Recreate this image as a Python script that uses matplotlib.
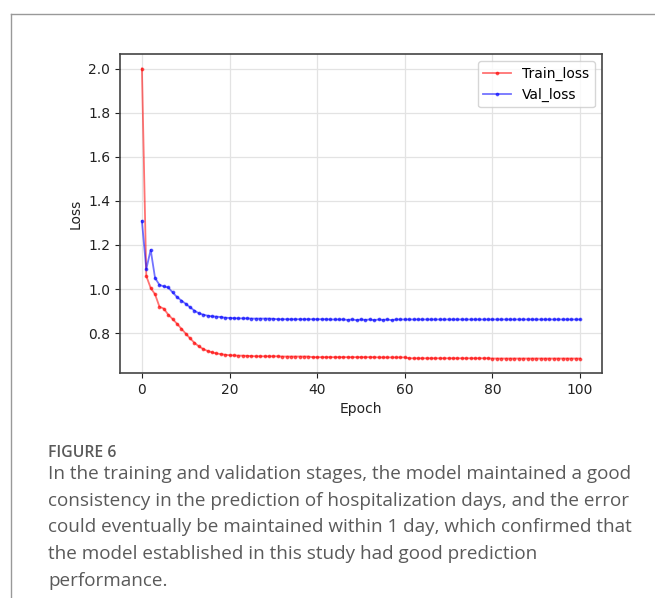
import matplotlib
matplotlib.use('agg')
import matplotlib.pyplot as plt
from matplotlib.lines import Line2D

# loss values per epoch
train_loss = [2.000, 1.059, 1.005, 0.976, 0.920, 0.911, 0.884, 0.864, 0.843, 0.820,
              0.798, 0.776, 0.756, 0.740, 0.728, 0.719, 0.713, 0.708, 0.705, 0.702,
              0.700, 0.699, 0.698, 0.698, 0.697, 0.696, 0.695, 0.695, 0.695, 0.695,
              0.695, 0.695, 0.694, 0.694, 0.694, 0.694, 0.694, 0.694, 0.694, 0.691,
              0.691, 0.691, 0.691, 0.691, 0.691, 0.691, 0.691, 0.691, 0.691, 0.691,
              0.691, 0.691, 0.691, 0.691, 0.690, 0.690, 0.690, 0.690, 0.690, 0.690,
              0.690, 0.686, 0.686, 0.686, 0.686, 0.686, 0.686, 0.686, 0.686, 0.686,
              0.686, 0.686, 0.686, 0.686, 0.686, 0.686, 0.686, 0.686, 0.686, 0.686,
              0.685, 0.685, 0.685, 0.685, 0.685, 0.685, 0.685, 0.685, 0.685, 0.685,
              0.685, 0.685, 0.685, 0.685, 0.685, 0.685, 0.685, 0.685, 0.685, 0.685,
              0.685]
val_loss = [1.309, 1.090, 1.178, 1.050, 1.019, 1.012, 1.007, 0.985, 0.964, 0.948,
            0.933, 0.917, 0.902, 0.890, 0.884, 0.879, 0.876, 0.875, 0.873, 0.870,
            0.869, 0.868, 0.867, 0.867, 0.867, 0.866, 0.866, 0.866, 0.866, 0.866,
            0.865, 0.863, 0.863, 0.863, 0.863, 0.863, 0.863, 0.863, 0.863, 0.863,
            0.863, 0.863, 0.863, 0.862, 0.862, 0.862, 0.862, 0.860, 0.862, 0.859,
            0.862, 0.860, 0.862, 0.859, 0.862, 0.860, 0.862, 0.859, 0.862, 0.862,
            0.862, 0.862, 0.862, 0.862, 0.862, 0.862, 0.862, 0.862, 0.862, 0.862,
            0.862, 0.862, 0.862, 0.862, 0.862, 0.862, 0.862, 0.862, 0.862, 0.862,
            0.862, 0.862, 0.862, 0.862, 0.862, 0.862, 0.862, 0.862, 0.862, 0.862,
            0.862, 0.862, 0.862, 0.862, 0.862, 0.862, 0.862, 0.862, 0.862, 0.862,
            0.862]
epochs = list(range(len(train_loss)))

caption_label = "FIGURE 6"
caption_lines = [
    "In the training and validation stages, the model maintained a good",
    "consistency in the prediction of hospitalization days, and the error",
    "could eventually be maintained within 1 day, which confirmed that",
    "the model established in this study had good prediction",
    "performance.",
]

W, H = 655, 598
fig = plt.figure(figsize=(W / 100, H / 100), dpi=100)
ax = fig.add_axes([120 / W, 1 - 373 / H, (602 - 120) / W, (373 - 54) / H])

ax.plot(epochs, train_loss, '.-', color='r', alpha=0.55, markersize=3.5, linewidth=1.3, label='Train_loss')
ax.plot(epochs, val_loss, '.-', color='b', alpha=0.55, markersize=3.5, linewidth=1.3, label='Val_loss')
ax.grid(True, color='#e3e3e3', linewidth=0.9)
ax.set_axisbelow(True)
ax.set_xlabel('Epoch', fontsize=10, color='#222222')
ax.set_ylabel('Loss', fontsize=10, color='#222222')
ax.tick_params(labelsize=10, colors='#222222')
for s in ax.spines.values():
    s.set_color('#444444')
    s.set_linewidth(1.2)
ax.legend(loc='upper right', fontsize=10)

# page frame around the figure
fig.add_artist(Line2D([11 / W, 1], [1 - 14 / H, 1 - 14 / H], color='#999999', linewidth=1))
fig.add_artist(Line2D([11 / W, 11 / W], [0, 1 - 14 / H], color='#999999', linewidth=1))

fig.text(48 / W, 1 - 457 / H, caption_label, fontsize=11.3, fontweight='semibold',
         family='Open Sans', color='#5a5a5a', va='baseline')
for i, line in enumerate(caption_lines):
    fig.text(48 / W, 1 - (479 + 26.7 * i) / H, line, fontsize=13.6,
             family='Open Sans', color='#5a5a5a', va='baseline')

fig.savefig('out.png', dpi=100)
